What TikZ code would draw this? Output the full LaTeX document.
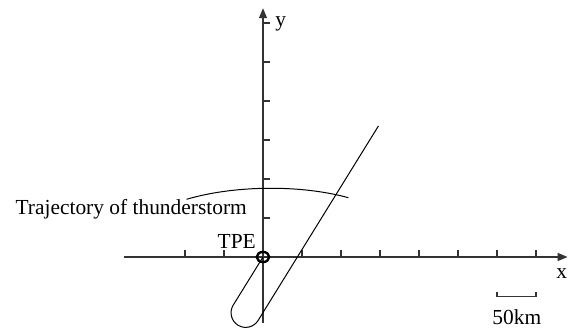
\documentclass[tikz,border=0pt]{standalone}
\usepackage{fontspec}
\setmainfont{Liberation Serif}
\usetikzlibrary{arrows.meta}

\begin{document}
\begin{tikzpicture}[x=39bp,y=39bp,
    axis/.style={black!80, line width=1.4pt, -{Triangle[length=10pt,width=8pt]}},
    tick/.style={black!80, line width=1.3pt},
    curve/.style={black, line width=1pt},
    lbl/.style={inner sep=0pt, font=\fontsize{21.5}{25}\selectfont}]
                \useasboundingbox (-6.744,-1.923) rectangle (7.821,6.590);
                % axes
                \coordinate (O) at (0,0);
                \coordinate (xl) at (-3.56,0);
                \coordinate (xr) at (7.81,0);
                \coordinate (yb) at (0,-1.69);
                \coordinate (yt) at (0,6.38);
                \draw[axis] (xl)--(xr);
                \draw[axis] (yb)--(yt);
                \foreach \i in {-2,-1,1,2,3,4,5,6,7}
                    \draw[tick] (\i,0)--++(0,0.18);
                \foreach \j in {1,...,6}
                    \draw[tick] (0,\j)--++(0.18,0);
                \node[lbl, anchor=base west] (ylab) at (0.31,5.9) {y};
                \node[lbl, anchor=base east] (xlab) at (7.80,-0.54) {x};
                % station
                \draw[black, line width=2.4pt] (O) ellipse (0.16 and 0.13);
                \node[lbl, anchor=base east] (tpe) at (-0.18,0.23) {TPE};
                % track of the storm
                \coordinate (tr1) at (2.96,3.36);
                \coordinate (tr2) at (-0.125,-1.627);
                \draw[curve] (tr1)--(tr2) arc[start angle=-31.7, end angle=-211.7, radius=0.375]--(O);
                % trajectory arc
                \coordinate (a1) at (-1.96,1.48);
                \coordinate (a2) at (2.19,1.52);
                \draw[curve] (a1) .. controls (-0.7,1.85) and (1.0,1.85) .. (a2);
                \node[lbl, anchor=base east] (traj) at (-0.41,1.10) {Trajectory of thunderstorm};
                % scale bar
                \coordinate (s1) at (6,-0.9);
                \coordinate (s2) at (7,-0.9);
                \draw[tick] (s1)--(6,-1.02)--(7,-1.02)--(s2);
                \node[lbl, anchor=base] (scale) at (6.51,-1.74) {50km};
            \end{tikzpicture}
\end{document}
